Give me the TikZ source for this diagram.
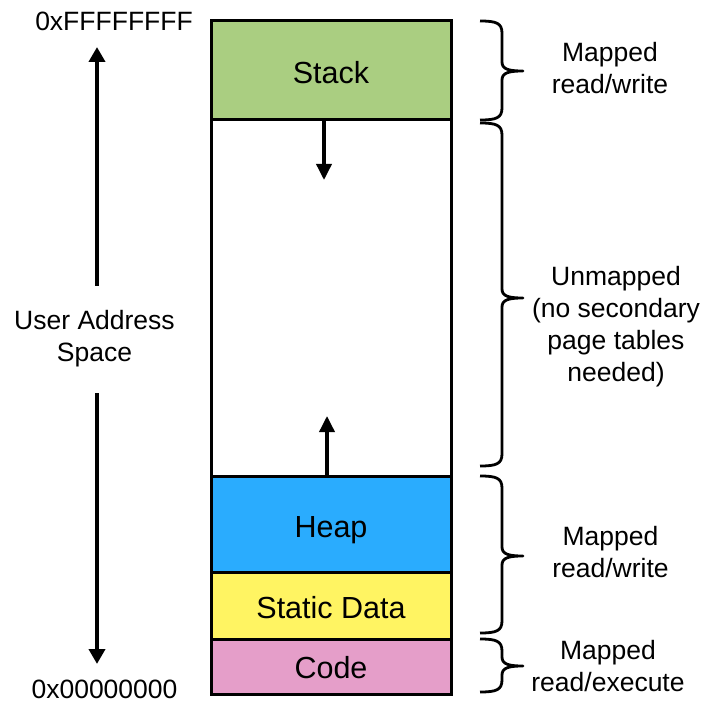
\documentclass[tikz,border=0pt]{standalone}
\usepackage{fontspec}
\setmainfont{Liberation Sans}
\usetikzlibrary{arrows.meta}

% right-hand curly brace spanning #1..#2 with its point at #3
\newcommand{\spanbrace}[3]{%
  \draw[spanline] (480,#1) .. controls (496,#1) and (502,#1+2) .. (502,#1+12)
    -- (502,#3-9) .. controls (502,#3-2) and (508,#3) .. (523,#3)
    .. controls (508,#3) and (502,#3+2) .. (502,#3+9)
    -- (502,#2-12) .. controls (502,#2-2) and (496,#2) .. (480,#2);}

\begin{document}
\begin{tikzpicture}[x=1pt,y=-1pt,
  seg/.style={rectangle, draw=black, line width=3pt, minimum width=240pt,
    inner sep=0pt, outer sep=0pt},
  seglabel/.style={font=\fontsize{30.5}{36}\selectfont, anchor=base},
  side/.style={font=\fontsize{26.5}{32}\selectfont, align=center},
  addr/.style={font=\fontsize{26.5}{32}\selectfont, anchor=base},
  growth/.style={line width=3.5pt, -{Triangle[length=16pt,width=15pt]}},
  axis/.style={line width=4pt, -{Triangle[length=15pt,width=16pt]}},
  spanline/.style={line width=2.8pt, line join=round}]
\useasboundingbox (0,0) rectangle (704,703);
\definecolor{stackgreen}{HTML}{AACE81}
\definecolor{heapblue}{HTML}{2AACFE}
\definecolor{datayellow}{HTML}{FFF462}
\definecolor{codepink}{HTML}{E59EC9}

% memory segments, top to bottom
\node[seg, fill=white, minimum height=356pt] (free) at (331,298) {};
\node[seg, fill=stackgreen, minimum height=99pt] (stack) at (331,70.5) {};
\node[seg, fill=heapblue, minimum height=96pt] (heap) at (331,524) {};
\node[seg, fill=datayellow, minimum height=67pt] (data) at (331,605.5) {};
\node[seg, fill=codepink, minimum height=55pt] (code) at (331,666.5) {};

\node[seglabel] (stacktxt) at (331,84) {Stack};
\node[seglabel] (heaptxt) at (331,537) {Heap};
\node[seglabel] (datatxt) at (331,618) {Static Data};
\node[seglabel] (codetxt) at (331,678) {Code};

% growth directions of stack and heap
\coordinate (stackdown) at (324,180);
\coordinate (heapup) at (327,416);
\draw[growth] (stack.south -| stackdown) -- (stackdown);
\draw[growth] (heap.north -| heapup) -- (heapup);

% address axis
\node[addr] (hi) at (114,31) {0xFFFFFFFF};
\node[addr] (lo) at (104.5,698.5) {0x00000000};
\node[side] (uas) at (94.5,338.5) {User Address\\Space};
\coordinate (hitail) at (97,286);
\coordinate (hitip) at (97,47);
\coordinate (lotail) at (97,393);
\coordinate (lotip) at (97,664);
\draw[axis] (hitail) -- (hitip);
\draw[axis] (lotail) -- (lotip);

% mapping braces
\spanbrace{21}{120}{71}
\spanbrace{123}{466}{298}
\spanbrace{476}{633}{556}
\spanbrace{639}{692}{666}

\node[side] (m1) at (610,68.5) {Mapped\\read/write};
\node[side] (um) at (616,326.5) {Unmapped\\(no secondary\\page tables\\needed)};
\node[side] (m2) at (610.5,552.5) {Mapped\\read/write};
\node[side] (m3) at (608,666) {Mapped\\read/execute};
\end{tikzpicture}
\end{document}
